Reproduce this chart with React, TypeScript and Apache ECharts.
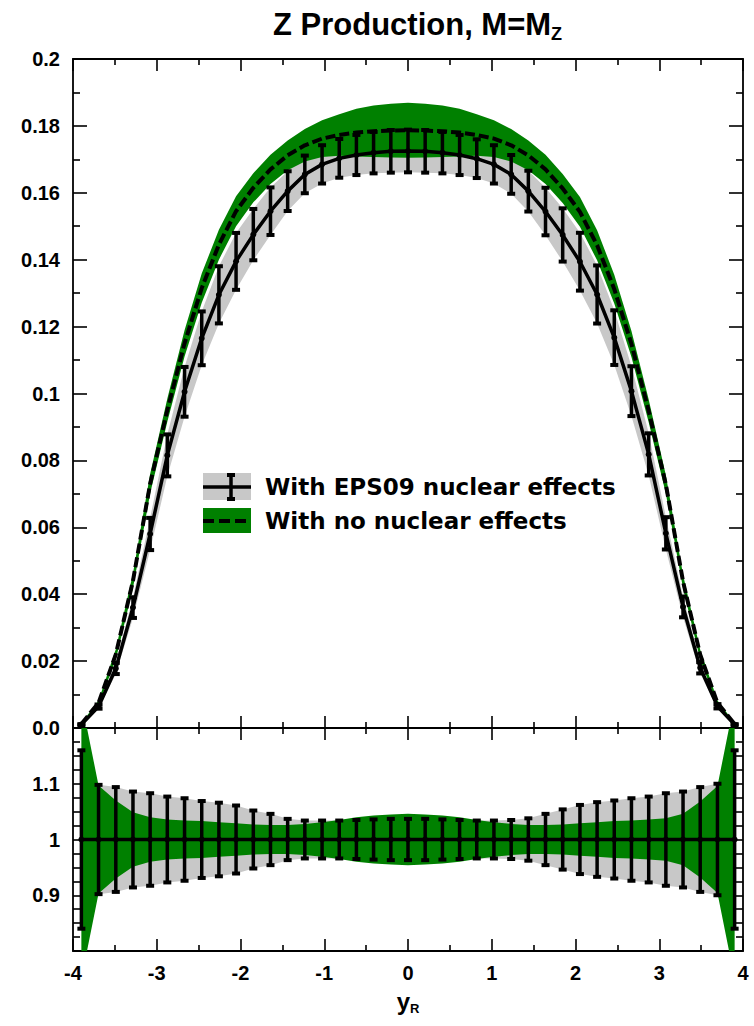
import React, { useEffect, useRef } from "react";
import * as echarts from "echarts";

// Rapidity grid of the calculation points
const yR = [
  -3.9, -3.695, -3.489, -3.284, -3.079, -2.874, -2.668, -2.463, -2.258, -2.053,
  -1.847, -1.642, -1.437, -1.232, -1.026, -0.821, -0.616, -0.411, -0.205, 0,
  0.205, 0.411, 0.616, 0.821, 1.026, 1.232, 1.437, 1.642, 1.847, 2.053,
  2.258, 2.463, 2.668, 2.874, 3.079, 3.284, 3.489, 3.695, 3.9,
];

// With EPS09 nuclear effects: central values and relative uncertainty
const eps09Central = [
  0.001, 0.0064, 0.0178, 0.036, 0.058, 0.0815, 0.1005, 0.1165, 0.1295, 0.1395,
  0.1475, 0.1545, 0.1605, 0.1655, 0.1685, 0.1703, 0.1713, 0.172, 0.1724, 0.1725,
  0.1724, 0.172, 0.1713, 0.1702, 0.1685, 0.1655, 0.1605, 0.1544, 0.1474, 0.1394,
  0.1296, 0.1167, 0.1007, 0.0818, 0.0582, 0.0362, 0.018, 0.0065, 0.001,
];
const eps09RelErr = [
  0.16, 0.098, 0.094, 0.086, 0.083, 0.077, 0.074, 0.069, 0.066, 0.061,
  0.052, 0.046, 0.037, 0.034, 0.034, 0.034, 0.035, 0.036, 0.037, 0.037,
  0.037, 0.036, 0.035, 0.034, 0.034, 0.035, 0.038, 0.046, 0.054, 0.062,
  0.067, 0.07, 0.074, 0.077, 0.083, 0.086, 0.094, 0.1, 0.16,
];

// With no nuclear effects: central values and relative uncertainty
const noNuclearCentral = [
  0.0012, 0.0075, 0.022, 0.044, 0.073, 0.095, 0.115, 0.1315, 0.1445, 0.1545,
  0.1615, 0.167, 0.1712, 0.1742, 0.1762, 0.1773, 0.178, 0.1784, 0.1786, 0.1787,
  0.1786, 0.1784, 0.178, 0.1773, 0.1762, 0.1742, 0.1712, 0.167, 0.1613, 0.1543,
  0.1443, 0.1312, 0.1148, 0.0948, 0.0728, 0.0438, 0.0219, 0.0075, 0.0012,
];
const noNuclearRelErr = [
  0.25, 0.097, 0.07, 0.049, 0.04, 0.036, 0.034, 0.033, 0.031, 0.029,
  0.027, 0.026, 0.026, 0.028, 0.031, 0.035, 0.04, 0.043, 0.045, 0.046,
  0.045, 0.043, 0.04, 0.035, 0.031, 0.028, 0.026, 0.026, 0.027, 0.029,
  0.031, 0.033, 0.034, 0.036, 0.038, 0.046, 0.068, 0.096, 0.25,
];

const legendLabels = ["With EPS09 nuclear effects", "With no nuclear effects"];
const titleMain = "Z Production, M=M";
const titleSub = "Z";

const GRAY = "#c8c8c8";
const GREEN = "#008000";
const BLACK = "#000000";
const FONT = "Liberation Sans, Arial, Helvetica, sans-serif";

function bandSeries(
  xIdx: number,
  yIdx: number,
  upper: number[],
  lower: number[],
  color: string,
  z: number,
  anchorY: number
) {
  return {
    type: "custom",
    xAxisIndex: xIdx,
    yAxisIndex: yIdx,
    z,
    silent: true,
    clip: true,
    data: [[0, anchorY]],
    renderItem: (params: any, api: any) => {
      const pts: number[][] = [];
      for (let i = 0; i < yR.length; i++) pts.push(api.coord([yR[i], upper[i]]));
      for (let i = yR.length - 1; i >= 0; i--) pts.push(api.coord([yR[i], lower[i]]));
      const cs = params.coordSys;
      return {
        type: "polygon",
        shape: { points: pts },
        style: { fill: color, stroke: null },
        clipPath: {
          type: "rect",
          shape: { x: cs.x, y: cs.y, width: cs.width, height: cs.height },
        },
      };
    },
  };
}

function errorBarSeries(xIdx: number, yIdx: number, data: number[][], z: number) {
  return {
    type: "custom",
    xAxisIndex: xIdx,
    yAxisIndex: yIdx,
    z,
    silent: true,
    encode: { x: 0, y: [1, 2] },
    data,
    renderItem: (params: any, api: any) => {
      const x = api.value(0);
      const lo = api.value(1);
      const hi = api.value(2);
      const pHi = api.coord([x, hi]);
      const pLo = api.coord([x, lo]);
      const hw = 4;
      const st = { stroke: BLACK, lineWidth: 3.5 };
      const cap = { stroke: BLACK, lineWidth: 4 };
      return {
        type: "group",
        children: [
          { type: "line", shape: { x1: pHi[0], y1: pHi[1], x2: pLo[0], y2: pLo[1] }, style: st },
          { type: "line", shape: { x1: pHi[0] - hw, y1: pHi[1], x2: pHi[0] + hw, y2: pHi[1] }, style: cap },
          { type: "line", shape: { x1: pLo[0] - hw, y1: pLo[1], x2: pLo[0] + hw, y2: pLo[1] }, style: cap },
        ],
      };
    },
  };
}

const tickStyle = { color: BLACK, width: 1.6 };
const axisLineStyle = { color: BLACK, width: 1.8 };

function xAxisDef(gridIndex: number, position: string, showLabels: boolean) {
  return {
    type: "value",
    gridIndex,
    position,
    min: -4,
    max: 4,
    interval: 1,
    axisLine: { show: true, onZero: false, lineStyle: axisLineStyle },
    axisTick: { show: true, inside: true, length: 12, lineStyle: tickStyle },
    minorTick: { show: true, splitNumber: 2, length: 6, lineStyle: tickStyle },
    splitLine: { show: false },
    minorSplitLine: { show: false },
    axisLabel: {
      show: showLabels,
      margin: 12,
      color: BLACK,
      fontFamily: FONT,
      fontWeight: "bold",
      fontSize: 20,
      formatter: (v: number) => String(Math.round(v)),
    },
  };
}

function yAxisTopDef(position: string, showLabels: boolean) {
  return {
    type: "value",
    gridIndex: 0,
    position,
    min: 0,
    max: 0.2,
    interval: 0.02,
    axisLine: { show: true, onZero: false, lineStyle: axisLineStyle },
    axisTick: { show: true, inside: true, length: 14, lineStyle: tickStyle },
    minorTick: { show: true, splitNumber: 2, length: 7, lineStyle: tickStyle },
    splitLine: { show: false },
    minorSplitLine: { show: false },
    axisLabel: {
      show: showLabels,
      margin: 13,
      color: BLACK,
      fontFamily: FONT,
      fontWeight: "bold",
      fontSize: 20,
      formatter: (v: number) => (Math.abs(v) < 1e-9 ? "0.0" : String(+v.toFixed(2))),
    },
  };
}

function yAxisBottomDef(position: string, showLabels: boolean) {
  return {
    type: "value",
    gridIndex: 1,
    position,
    min: 0.8,
    max: 1.2,
    interval: 0.1,
    axisLine: { show: true, onZero: false, lineStyle: axisLineStyle },
    axisTick: { show: true, inside: true, length: 7, lineStyle: tickStyle },
    minorTick: { show: true, splitNumber: 4, length: 7, lineStyle: tickStyle },
    splitLine: { show: false },
    minorSplitLine: { show: false },
    axisLabel: {
      show: showLabels,
      margin: 13,
      color: BLACK,
      fontFamily: FONT,
      fontWeight: "bold",
      fontSize: 20,
      formatter: (v: number) =>
        Math.abs(v - 0.8) < 1e-6 || Math.abs(v - 1.2) < 1e-6 ? "" : String(+v.toFixed(1)),
    },
  };
}

export default function App() {
  const ref = useRef<HTMLDivElement>(null);

  useEffect(() => {
    if (!ref.current) return;
    const chart = echarts.init(ref.current, null, { renderer: "svg" });

    const epsUpper = eps09Central.map((c, i) => c * (1 + eps09RelErr[i]));
    const epsLower = eps09Central.map((c, i) => c * (1 - eps09RelErr[i]));
    const noUpper = noNuclearCentral.map((c, i) => c * (1 + noNuclearRelErr[i]));
    const noLower = noNuclearCentral.map((c, i) => c * (1 - noNuclearRelErr[i]));

    const epsRatio = eps09Central.map((c) => c / c);
    const epsRatioUpper = eps09RelErr.map((e, i) => epsRatio[i] + e);
    const epsRatioLower = eps09RelErr.map((e, i) => epsRatio[i] - e);
    const noRatioUpper = noNuclearRelErr.map((e, i) => noNuclearCentral[i] / noNuclearCentral[i] + e);
    const noRatioLower = noNuclearRelErr.map((e, i) => noNuclearCentral[i] / noNuclearCentral[i] - e);

    const topErr = yR.map((x, i) => [x, epsLower[i], epsUpper[i]]);
    const botErr = yR.map((x, i) => [x, epsRatioLower[i], epsRatioUpper[i]]);

    const option: any = {
      animation: false,
      backgroundColor: "#ffffff",
      title: {
        text: `{a|${titleMain}}{b|${titleSub}}`,
        left: 268,
        top: 0,
        textStyle: {
          rich: {
            a: { fontFamily: FONT, fontWeight: "bold", fontSize: 31, color: BLACK, lineHeight: 38 },
            b: { fontFamily: FONT, fontWeight: "bold", fontSize: 18, color: BLACK, lineHeight: 24, verticalAlign: "bottom" },
          },
        },
      },
      grid: [
        { left: 73, top: 59, width: 670, height: 669, containLabel: false },
        { left: 73, top: 728, width: 670, height: 223, containLabel: false },
      ],
      xAxis: [
        xAxisDef(0, "bottom", false),
        xAxisDef(0, "top", false),
        {
          ...xAxisDef(1, "bottom", true),
          name: "{a|y}{b|R}",
          nameLocation: "middle",
          nameGap: 36,
          nameTextStyle: {
            rich: {
              a: { fontFamily: FONT, fontWeight: "bold", fontSize: 24, color: BLACK, lineHeight: 28 },
              b: { fontFamily: FONT, fontWeight: "bold", fontSize: 13, color: BLACK, lineHeight: 16, verticalAlign: "bottom" },
            },
          },
        },
        xAxisDef(1, "top", false),
      ],
      yAxis: [
        yAxisTopDef("left", true),
        yAxisTopDef("right", false),
        yAxisBottomDef("left", true),
        yAxisBottomDef("right", false),
      ],
      series: [
        bandSeries(0, 0, epsUpper, epsLower, GRAY, 1, 0.1),
        bandSeries(0, 0, noUpper, noLower, GREEN, 2, 0.1),
        {
          type: "line",
          xAxisIndex: 0,
          yAxisIndex: 0,
          z: 3,
          silent: true,
          symbol: "none",
          data: yR.map((x, i) => [x, noNuclearCentral[i]]),
          lineStyle: { color: BLACK, width: 4, type: [10, 4] },
        },
        {
          type: "line",
          xAxisIndex: 0,
          yAxisIndex: 0,
          z: 4,
          silent: true,
          symbol: "circle",
          symbolSize: 6,
          itemStyle: { color: BLACK },
          data: yR.map((x, i) => [x, eps09Central[i]]),
          lineStyle: { color: BLACK, width: 3.5 },
        },
        errorBarSeries(0, 0, topErr, 5),

        bandSeries(2, 2, epsRatioUpper, epsRatioLower, GRAY, 1, 1),
        bandSeries(2, 2, noRatioUpper, noRatioLower, GREEN, 2, 1),
        {
          type: "line",
          xAxisIndex: 2,
          yAxisIndex: 2,
          z: 4,
          silent: true,
          symbol: "circle",
          symbolSize: 6,
          itemStyle: { color: BLACK },
          data: yR.map((x, i) => [x, epsRatio[i]]),
          lineStyle: { color: BLACK, width: 3.5 },
        },
        errorBarSeries(2, 2, botErr, 5),
      ],
      graphic: [
        { type: "rect", left: 203, top: 473, shape: { width: 48, height: 27 }, style: { fill: GRAY }, z: 10 },
        { type: "line", shape: { x1: 203, y1: 487, x2: 251, y2: 487 }, style: { stroke: BLACK, lineWidth: 3.5 }, z: 11 },
        { type: "line", shape: { x1: 231, y1: 475, x2: 231, y2: 499 }, style: { stroke: BLACK, lineWidth: 3.5 }, z: 11 },
        { type: "line", shape: { x1: 227, y1: 475, x2: 235, y2: 475 }, style: { stroke: BLACK, lineWidth: 4 }, z: 11 },
        { type: "line", shape: { x1: 227, y1: 499, x2: 235, y2: 499 }, style: { stroke: BLACK, lineWidth: 4 }, z: 11 },
        { type: "rect", left: 203, top: 508, shape: { width: 48, height: 25 }, style: { fill: GREEN }, z: 10 },
        { type: "line", shape: { x1: 203, y1: 521, x2: 251, y2: 521 }, style: { stroke: BLACK, lineWidth: 4, lineDash: [11, 5] }, z: 11 },
        {
          type: "text",
          x: 265,
          y: 487,
          z: 11,
          style: {
            text: legendLabels[0],
            fill: BLACK,
            font: "bold 23px 'DejaVu Sans', sans-serif",
            verticalAlign: "middle",
          },
        },
        {
          type: "text",
          x: 265,
          y: 521,
          z: 11,
          style: {
            text: legendLabels[1],
            fill: BLACK,
            font: "bold 23px 'DejaVu Sans', sans-serif",
            verticalAlign: "middle",
          },
        },
      ],
    };

    chart.setOption(option);
    return () => chart.dispose();
  }, []);

  return (
    <div
      ref={ref}
      style={{ position: "absolute", left: 0, top: 0, width: 754, height: 1026, background: "#fff" }}
    />
  );
}
